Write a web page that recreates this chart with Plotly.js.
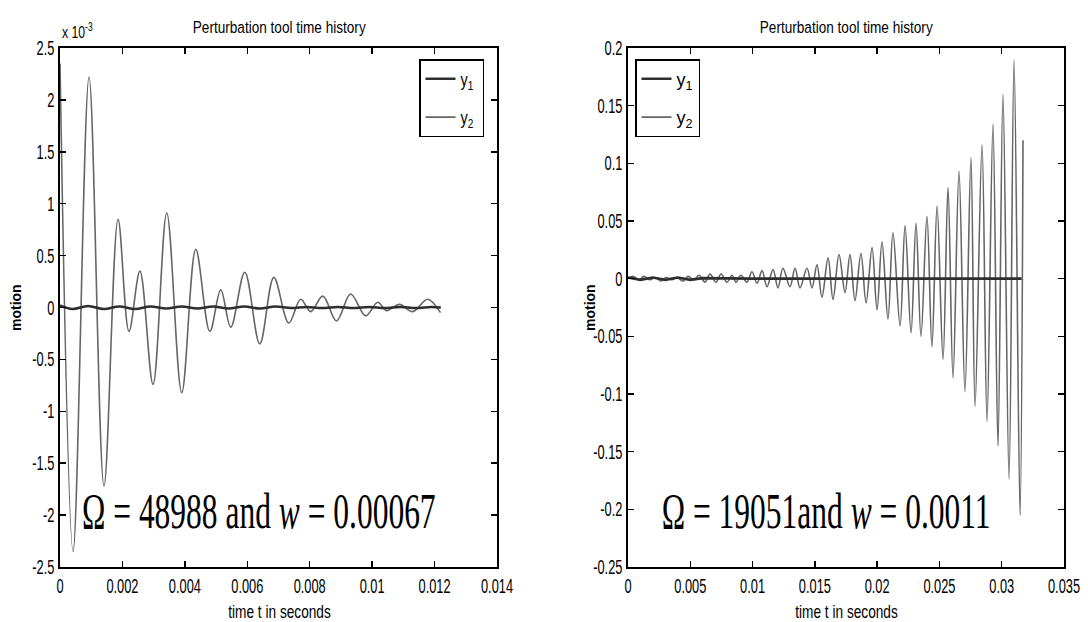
<!DOCTYPE html>
<html>
<head>
<meta charset="utf-8">
<script src="https://cdn.plot.ly/plotly-3.0.1.min.js"></script>
<style>
  html, body { margin: 0; padding: 0; background: #fff; }
  #chart { width: 1088px; height: 622px; }
</style>
</head>
<body>
<div id="chart"></div>
<script>
// ---------------- DATA ----------------
// Left panel (values of motion in units of 1e-3)
var leftY2Time = [0, 0.00042, 0.00093, 0.00141, 0.00186, 0.00221, 0.00256, 0.00298, 0.00342, 0.0039,
  0.00435, 0.0048, 0.00515, 0.00547, 0.00592, 0.0064, 0.00685, 0.00733, 0.00771, 0.00803,
  0.00842, 0.00886, 0.00931, 0.00979, 0.01018, 0.01046, 0.01088, 0.0113, 0.01178, 0.01219];
var leftY2 = [2.35, -2.35, 2.22, -1.72, 0.85, -0.23, 0.35, -0.74, 0.91, -0.82,
  0.56, -0.23, 0.17, -0.19, 0.34, -0.35, 0.29, -0.15, 0.08, -0.04,
  0.11, -0.13, 0.13, -0.08, 0.05, -0.03, 0.03, -0.04, 0.08, -0.05];
var leftY1Time = [0, 0.0004, 0.0009, 0.0014, 0.0019, 0.0024, 0.0029, 0.0034, 0.0039, 0.0044,
  0.0049, 0.0054, 0.0059, 0.0064, 0.0069, 0.0074, 0.0079, 0.0084, 0.0089, 0.0094,
  0.0099, 0.0104, 0.0109, 0.0114, 0.0119, 0.0122];
var leftY1 = [0.02, -0.015, 0.015, -0.015, 0.01, -0.015, 0.01, -0.01, 0.01, -0.01,
  0.01, -0.01, 0.01, -0.01, 0.01, -0.005, 0.005, -0.005, 0.005, -0.005,
  0.005, -0.005, 0.005, -0.005, 0.005, 0.0];

// Right panel
var rightY2Time = [0, 0.0004, 0.00088, 0.00128, 0.00177, 0.00217, 0.00265, 0.00305, 0.00353, 0.00393,
  0.00442, 0.00482, 0.0053, 0.0057, 0.00618, 0.00658, 0.00706, 0.00747, 0.00795, 0.00835,
  0.00867, 0.00907, 0.00955, 0.00995, 0.01036, 0.01076, 0.01116, 0.01164, 0.01204, 0.01244,
  0.013, 0.01341, 0.01381, 0.01437, 0.01477, 0.01517, 0.01557, 0.01606, 0.01646, 0.01694,
  0.01742, 0.01782, 0.01822, 0.0187, 0.01911, 0.01959, 0.01999, 0.02039, 0.02087, 0.02127,
  0.02184, 0.02224, 0.02272, 0.02312, 0.02352, 0.024, 0.0244, 0.02481, 0.02529, 0.02569,
  0.02609, 0.02657, 0.02705, 0.02753, 0.02786, 0.02842, 0.02882, 0.0293, 0.0297, 0.0301,
  0.03059, 0.03099, 0.03147, 0.03171];
var rightY2 = [0, 0.002, -0.001, 0.002, -0.001, 0.001, -0.002, 0.001, -0.001, 0.001,
  -0.002, 0.002, -0.001, 0.003, -0.003, 0.004, -0.003, 0.004, -0.003, 0.003,
  -0.003, 0.003, -0.003, 0.006, -0.004, 0.007, -0.007, 0.008, -0.008, 0.009,
  -0.007, 0.009, -0.008, 0.009, -0.008, 0.012, -0.016, 0.018, -0.018, 0.021,
  -0.012, 0.021, -0.019, 0.022, -0.021, 0.027, -0.027, 0.032, -0.035, 0.040,
  -0.041, 0.046, -0.047, 0.048, -0.050, 0.054, -0.059, 0.063, -0.070, 0.079,
  -0.086, 0.093, -0.098, 0.105, -0.111, 0.116, -0.124, 0.134, -0.145, 0.160,
  -0.174, 0.190, -0.205, 0.120];
var rightY1Time = [0, 0.001, 0.002, 0.003, 0.004, 0.005, 0.006, 0.008, 0.01, 0.015, 0.02, 0.025, 0.03, 0.0316];
var rightY1 = [0.001, -0.001, 0.001, -0.001, 0.001, -0.001, 0.0005, 0, 0, 0, 0, 0, 0, 0];

// Ticks
var leftXTicks = [0, 0.002, 0.004, 0.006, 0.008, 0.01, 0.012, 0.014];
var leftXTickText = ['0', '0.002', '0.004', '0.006', '0.008', '0.01', '0.012', '0.014'];
var leftYTicks = [-2.5, -2, -1.5, -1, -0.5, 0, 0.5, 1, 1.5, 2, 2.5];
var leftYTickText = ['-2.5', '-2', '-1.5', '-1', '-0.5', '0', '0.5', '1', '1.5', '2', '2.5'];
var rightXTicks = [0, 0.005, 0.01, 0.015, 0.02, 0.025, 0.03, 0.035];
var rightXTickText = ['0', '0.005', '0.01', '0.015', '0.02', '0.025', '0.03', '0.035'];
var rightYTicks = [-0.25, -0.2, -0.15, -0.1, -0.05, 0, 0.05, 0.1, 0.15, 0.2];
var rightYTickText = ['-0.25', '-0.2', '-0.15', '-0.1', '-0.05', '0', '0.05', '0.1', '0.15', '0.2'];

var seriesNames = ['y<sub>1</sub>', 'y<sub>2</sub>'];
var chartTitle = 'Perturbation tool time history';
var xTitle = 'time t in seconds';
var yTitle = 'motion';
var leftExponent = 'x 10<sup>-3</sup>';
var leftFormula = 'Ω = 48988 and <i>w</i> = 0.00067';
var rightFormula = 'Ω = 19051and <i>w</i> = 0.0011';

// ---------------- LAYOUT ----------------
var W = 1088, H = 622;
function px(x) { return x / W; }
function py(y) { return 1 - y / H; }

var SANS = 'Liberation Sans, Arial, sans-serif';
var SERIF = 'Liberation Serif, Times New Roman, serif';
var C1 = '#2e2e2e', C2 = '#666666';

var traces = [
  {x: leftY2Time, y: leftY2, name: seriesNames[1], xaxis: 'x', yaxis: 'y', legend: 'legend',
   legendgroup: 'a2', legendrank: 2, mode: 'lines', line: {color: C2, width: 1.6, shape: 'spline'}},
  {x: leftY1Time, y: leftY1, name: seriesNames[0], xaxis: 'x', yaxis: 'y', legend: 'legend',
   legendgroup: 'a1', legendrank: 1, mode: 'lines', line: {color: C1, width: 2.6, shape: 'spline'}},
  {x: rightY2Time, y: rightY2, name: seriesNames[1], xaxis: 'x2', yaxis: 'y2', legend: 'legend2',
   legendgroup: 'b2', legendrank: 2, mode: 'lines', line: {color: C2, width: 1.6, shape: 'spline'}},
  {x: rightY1Time, y: rightY1, name: seriesNames[0], xaxis: 'x2', yaxis: 'y2', legend: 'legend2',
   legendgroup: 'b1', legendrank: 1, mode: 'lines', line: {color: C1, width: 2.6}}
];

function axisBase(extra) {
  var a = {
    showline: true, linecolor: '#000', linewidth: 1.6, mirror: 'ticks',
    ticks: 'inside', ticklen: 6, tickwidth: 1.5, tickcolor: '#000',
    showgrid: false, zeroline: false, fixedrange: true,
    tickfont: {family: SANS, size: 20, color: '#000'},
    tickmode: 'array', ticklabeloverflow: 'allow'
  };
  for (var k in extra) a[k] = extra[k];
  return a;
}

var yTop = py(48), yBot = py(567);
var layout = {
  width: W, height: H,
  margin: {l: 0, r: 0, t: 0, b: 0, pad: 0},
  paper_bgcolor: '#fff', plot_bgcolor: '#fff',
  showlegend: true,
  xaxis: axisBase({domain: [px(60), px(497)], range: [0, 0.014], tickvals: leftXTicks, ticktext: leftXTickText, anchor: 'y'}),
  yaxis: axisBase({domain: [yBot, yTop], range: [-2.5, 2.5], tickvals: leftYTicks, ticktext: leftYTickText, anchor: 'x'}),
  xaxis2: axisBase({domain: [px(628), px(1064)], range: [0, 0.035], tickvals: rightXTicks, ticktext: rightXTickText, anchor: 'y2'}),
  yaxis2: axisBase({domain: [yBot, yTop], range: [-0.25, 0.2], tickvals: rightYTicks, ticktext: rightYTickText, anchor: 'x2'}),
  legend: {x: px(419), y: py(59), xanchor: 'left', yanchor: 'top', bgcolor: '#fff',
    bordercolor: '#000', borderwidth: 1.5, tracegroupgap: 12,
    font: {family: SANS, size: 18, color: '#000'}},
  legend2: {x: px(635), y: py(59), xanchor: 'left', yanchor: 'top', bgcolor: '#fff',
    bordercolor: '#000', borderwidth: 1.5, tracegroupgap: 12,
    font: {family: SANS, size: 18, color: '#000'}},
  annotations: [
    {text: chartTitle, x: px(279), y: py(27), font: {family: SANS, size: 17, color: '#000'}},
    {text: chartTitle, x: px(846), y: py(27), font: {family: SANS, size: 17, color: '#000'}},
    {text: xTitle, x: px(279), y: py(612), font: {family: SANS, size: 18, color: '#000'}},
    {text: xTitle, x: px(846), y: py(612), font: {family: SANS, size: 18, color: '#000'}},
    {text: '<b>' + yTitle + '</b>', x: px(16), y: py(308), textangle: -90, font: {family: SANS, size: 14, color: '#000'}},
    {text: '<b>' + yTitle + '</b>', x: px(590), y: py(308), textangle: -90, font: {family: SANS, size: 14, color: '#000'}},
    {text: leftExponent, x: px(60), y: py(31), xanchor: 'left', font: {family: SANS, size: 17, color: '#000'}},
    {text: leftFormula, x: px(259), y: py(511), font: {family: SERIF, size: 50, color: '#000'}},
    {text: rightFormula, x: px(826), y: py(511), font: {family: SERIF, size: 50, color: '#000'}}
  ]
};
layout.annotations.forEach(function (a) {
  a.xref = 'paper'; a.yref = 'paper'; a.showarrow = false;
  if (!a.xanchor) a.xanchor = 'center';
  a.yanchor = 'middle';
});

// horizontal squeeze factors (the reference text is tall and narrow)
var annSqueeze = [[0.8], [0.8], [0.76], [0.76], null, null, [0.72, 'start'], [0.63], [0.63]];
var tickSqueeze = 0.64, legendSqueeze = 0.8;

function squeeze(el, s, mode) {
  var bb = el.getBBox();
  var anchor = mode || el.getAttribute('text-anchor') || 'start';
  var ax = anchor === 'end' ? bb.x + bb.width : (anchor === 'middle' ? bb.x + bb.width / 2 : bb.x);
  var prev = el.getAttribute('transform') || '';
  el.setAttribute('transform', prev + ' translate(' + ax + ',0) scale(' + s + ',1) translate(' + (-ax) + ',0)');
}

Plotly.newPlot('chart', traces, layout, {displayModeBar: false, staticPlot: true}).then(function (gd) {
  gd.querySelectorAll('g.xtick text, g.x2tick text, g.ytick text, g.y2tick text').forEach(function (t) {
    squeeze(t, tickSqueeze);
  });
  gd.querySelectorAll('text.legendtext').forEach(function (t) { squeeze(t, legendSqueeze, 'start'); });
  gd.querySelectorAll('g.annotation').forEach(function (g) {
    var i = +g.getAttribute('data-index');
    var spec = annSqueeze[i];
    if (!spec) return;
    var t = g.querySelector('text.annotation-text');
    if (t) squeeze(t, spec[0], spec[1] || 'middle');
  });
});
</script>
</body>
</html>
